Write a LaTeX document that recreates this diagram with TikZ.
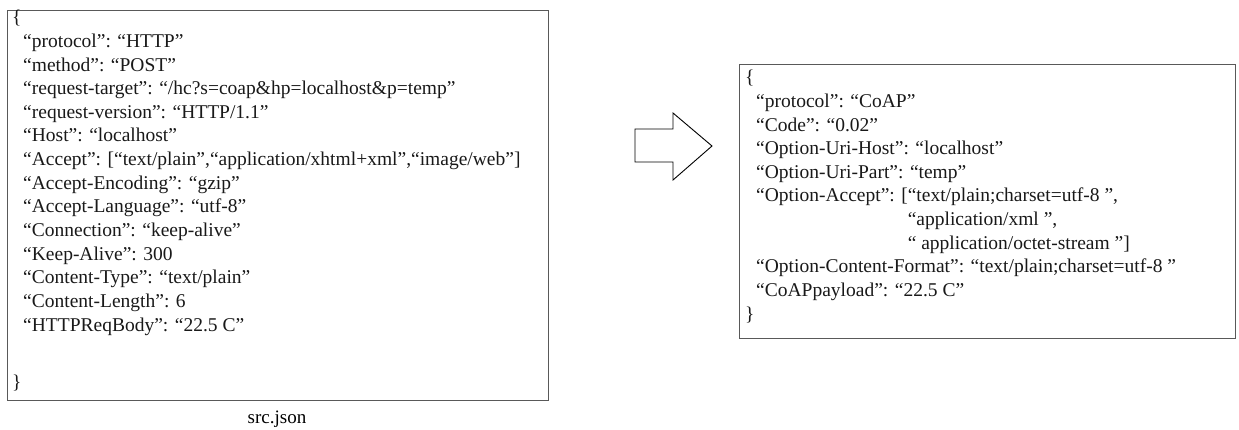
\documentclass[tikz,border=0pt]{standalone}
\usepackage{fontspec}
\setmainfont{Liberation Serif}
\begin{document}
\begin{tikzpicture}[x=1pt,y=-1pt,
  frame/.style={draw=black!65, line width=1.3pt, inner sep=0pt, anchor=north west},
  txt/.style={anchor=north west, align=left, inner sep=0pt, font=\fontsize{19.5}{23.65}\selectfont, text=black!90},
  blockarrow/.style={draw=black, line width=0.9pt, line join=miter}]
\useasboundingbox (0,0) rectangle (1239,430);
\node[frame, minimum width=541pt, minimum height=390pt] (srcbox) at (7,10) {};
\node[txt] (srctext) at (12,10) {\{\\
\hspace*{11pt}“protocol”: “HTTP”\\
\hspace*{11pt}“method”: “POST”\\
\hspace*{11pt}“request-target”: “/hc?s=coap\&hp=localhost\&p=temp”\\
\hspace*{11pt}“request-version”: “HTTP/1.1”\\
\hspace*{11pt}“Host”: “localhost”\\
\hspace*{11pt}“Accept”: [“text/plain”,“application/xhtml+xml”,“image/web”]\\
\hspace*{11pt}“Accept-Encoding”: “gzip”\\
\hspace*{11pt}“Accept-Language”: “utf-8”\\
\hspace*{11pt}“Connection”: “keep-alive”\\
\hspace*{11pt}“Keep-Alive”: 300\\
\hspace*{11pt}“Content-Type”: “text/plain”\\
\hspace*{11pt}“Content-Length”: 6\\
\hspace*{11pt}“HTTPReqBody”: “22.5 C”\\[34pt]
\}};
\node[font=\fontsize{19}{22}\selectfont, inner sep=0pt] (srclabel) at (277,419) {src.json};
\draw[blockarrow] (635,129) -- (673,129) -- (673,113) -- (712,146) -- (673,180) -- (673,162) -- (635,162) -- cycle;
\node[frame, minimum width=496pt, minimum height=274pt] (dstbox) at (739,64) {};
\node[txt] (dsttext) at (745,70) {\{\\
\hspace*{11pt}“protocol”: “CoAP”\\
\hspace*{11pt}“Code”: “0.02”\\
\hspace*{11pt}“Option-Uri-Host”: “localhost”\\
\hspace*{11pt}“Option-Uri-Part”: “temp”\\
\hspace*{11pt}“Option-Accept”: [“text/plain;charset=utf-8 ”,\\
\hspace*{11pt}\phantom{“Option-Accept”: [}“application/xml ”,\\
\hspace*{11pt}\phantom{“Option-Accept”: [}“ application/octet-stream ”]\\
\hspace*{11pt}“Option-Content-Format”: “text/plain;charset=utf-8 ”\\
\hspace*{11pt}“CoAPpayload”: “22.5 C”\\
\}};
\end{tikzpicture}
\end{document}
